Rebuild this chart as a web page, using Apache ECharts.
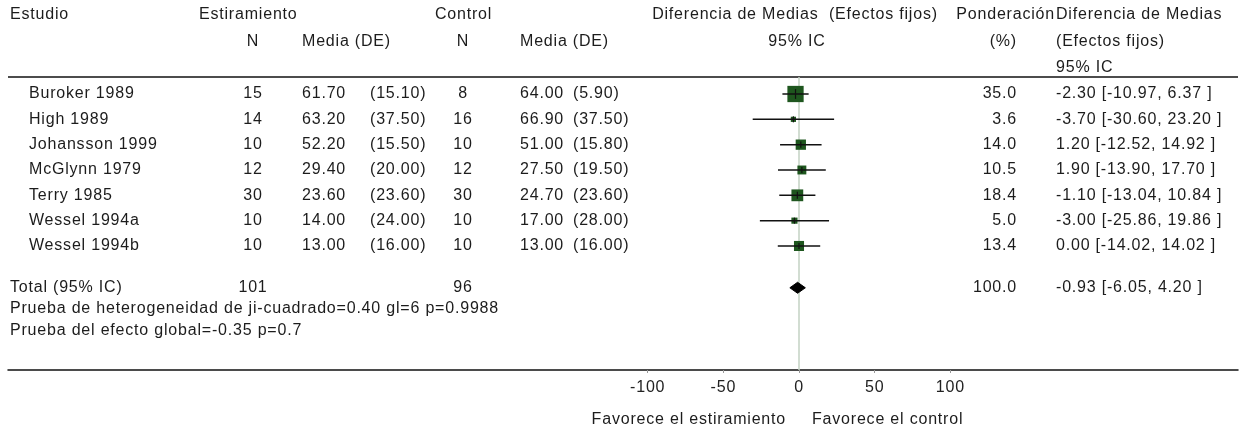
<!DOCTYPE html>
<html><head><meta charset="utf-8">
<script src="https://cdn.jsdelivr.net/npm/echarts@6/dist/echarts.min.js"></script>
<style>html,body{margin:0;padding:0;background:#fff}#c{width:1243px;height:432px}</style>
</head><body><div id="c"></div>
<script>
// ---- data ----
const studies = ['Buroker 1989','High 1989','Johansson 1999','McGlynn 1979','Terry 1985','Wessel 1994a','Wessel 1994b'];
const stretchN = [15,14,10,12,30,10,10];
const stretchMean = [61.70,63.20,52.20,29.40,23.60,14.00,13.00];
const stretchSD = [15.10,37.50,15.50,20.00,23.60,24.00,16.00];
const controlN = [8,16,10,12,30,10,10];
const controlMean = [64.00,66.90,51.00,27.50,24.70,17.00,13.00];
const controlSD = [5.90,37.50,15.80,19.50,23.60,28.00,16.00];
const weights = [35.0,3.6,14.0,10.5,18.4,5.0,13.4];
const meanDiff = [-2.30,-3.70,1.20,1.90,-1.10,-3.00,0.00];
const ciLow = [-10.97,-30.60,-12.52,-13.90,-13.04,-25.86,-14.02];
const ciHigh = [6.37,23.20,14.92,17.70,10.84,19.86,14.02];
const totalN = [101, 96];
const totalWeight = [100.0];
const totalEffect = [-0.93, -6.05, 4.20];
const xTicks = [-100,-50,0,50,100];
const heterogeneityText = 'Prueba de heterogeneidad de ji-cuadrado=0.40 gl=6 p=0.9988';
const overallText = 'Prueba del efecto global=-0.35 p=0.7';

// slight letter tracking like the original bitmap font
(function(){
  const P = CanvasRenderingContext2D.prototype;
  if (!('letterSpacing' in P)) return;
  const f = P.fillText, m = P.measureText;
  P.fillText = function(){ this.letterSpacing = '0.8px'; return f.apply(this, arguments); };
  P.measureText = function(){ this.letterSpacing = '0.8px'; return m.apply(this, arguments); };
})();

// ---- layout ----
const FF = '"Liberation Sans", Arial, sans-serif';
const FS = 16;
const TXT = '#1c1c1c';
const GREEN = '#1e561e';
const COL = {study:29, n1:253, m1:302, sd1:370, n2:463, m2:520, sd2:573, wt:1017, eff:1056};
const GRID = {left:8, right:5, top:77, bottom:62};
const ZERO_PX = 799, PX_PER_UNIT = 1.513;
const XMIN = -(ZERO_PX - GRID.left)/PX_PER_UNIT;
const XMAX = (1243 - GRID.right - ZERO_PX)/PX_PER_UNIT;
const ROW_PX = 25.33;
const YMIN = -(94 - GRID.top)/ROW_PX;
const YMAX = YMIN + (432 - GRID.bottom - GRID.top)/ROW_PX;
const TOTAL_ROW = 7.65;

function txt(text, x, y, align){
  return {type:'text', style:{text:text, x:x, y:y, fill:TXT, fontSize:FS, fontFamily:FF, align:align||'left', verticalAlign:'middle'}};
}
function gtxt(text, x, y, align){
  return {type:'text', x:x, y:y, style:{text:text, fill:TXT, fontSize:FS, fontFamily:FF, align:align||'left', verticalAlign:'middle'}, silent:true};
}
function effStr(e,l,h){ return e.toFixed(2)+' ['+l.toFixed(2)+', '+h.toFixed(2)+' ]'; }

function renderStudy(params, api){
  const i = params.dataIndex;
  const row = api.value(0), est = api.value(1), lo = api.value(2), hi = api.value(3), w = api.value(4);
  const c = api.coord([est,row]);
  const pl = api.coord([lo,row]);
  const ph = api.coord([hi,row]);
  const y = c[1];
  const s = 2.75*Math.sqrt(w);
  const t = Math.max(3, s*0.3);
  return {type:'group', children:[
    {type:'rect', shape:{x:c[0]-s/2, y:y-s/2, width:s, height:s}, style:{fill:GREEN}},
    {type:'line', shape:{x1:pl[0], y1:y, x2:ph[0], y2:y}, style:{stroke:'#111', lineWidth:1.5}},
    {type:'line', shape:{x1:c[0], y1:y-t, x2:c[0], y2:y+t}, style:{stroke:'#111', lineWidth:1.2}},
    txt(studies[i], COL.study, y),
    txt(String(stretchN[i]), COL.n1, y, 'center'),
    txt(stretchMean[i].toFixed(2), COL.m1, y),
    txt('('+stretchSD[i].toFixed(2)+')', COL.sd1, y),
    txt(String(controlN[i]), COL.n2, y, 'center'),
    txt(controlMean[i].toFixed(2), COL.m2, y),
    txt('('+controlSD[i].toFixed(2)+')', COL.sd2, y),
    txt(weights[i].toFixed(1), COL.wt, y, 'right'),
    txt(effStr(meanDiff[i], ciLow[i], ciHigh[i]), COL.eff, y)
  ]};
}
function renderTotal(params, api){
  const row = api.value(0), est = api.value(1), lo = api.value(2), hi = api.value(3);
  const c = api.coord([est,row]), pl = api.coord([lo,row]), ph = api.coord([hi,row]);
  const y = c[1], h = 5.5;
  return {type:'group', children:[
    {type:'polygon', shape:{points:[[pl[0],y],[c[0],y-h],[ph[0],y],[c[0],y+h]]}, style:{fill:'#000', stroke:'#000', lineWidth:1, lineJoin:'round'}},
    txt('Total (95% IC)', 10, y),
    txt(String(totalN[0]), COL.n1, y, 'center'),
    txt(String(totalN[1]), COL.n2, y, 'center'),
    txt(totalWeight[0].toFixed(1), COL.wt, y, 'right'),
    txt(effStr(totalEffect[0], totalEffect[1], totalEffect[2]), COL.eff, y),
    txt(heterogeneityText, 10, y+21),
    txt(overallText, 10, y+43)
  ]};
}

const chart = echarts.init(document.getElementById('c'), null, {renderer:'canvas'});
const hy1 = 15, hy2 = 42, hy3 = 68;
chart.setOption({
  animation:false,
  backgroundColor:'#fff',
  grid:{left:GRID.left, right:GRID.right, top:GRID.top, bottom:GRID.bottom, containLabel:false, outerBoundsMode:'none'},
  xAxis:{type:'value', min:XMIN, max:XMAX, splitLine:{show:false},
    axisLine:{show:true, onZero:false, lineStyle:{color:'#111', width:1.5}},
    axisTick:{show:true, customValues:xTicks, length:3, lineStyle:{color:'#999'}},
    axisLabel:{show:true, customValues:xTicks, color:'#222', fontSize:FS, fontFamily:FF, margin:9}},
  yAxis:{type:'value', inverse:true, min:YMIN, max:YMAX, show:false},
  series:[
    {type:'line', data:[[0,YMIN],[0,YMAX]], showSymbol:false, symbol:'none', z:1, silent:true,
     lineStyle:{color:'#c3d2c3', width:1.5}},
    {type:'custom', z:3, clip:false, renderItem:renderStudy,
     data:studies.map((s,i)=>[i, meanDiff[i], ciLow[i], ciHigh[i], weights[i]])},
    {type:'custom', z:3, clip:false, renderItem:renderTotal,
     data:[[TOTAL_ROW, totalEffect[0], totalEffect[1], totalEffect[2]]]}
  ],
  graphic:[
    {type:'line', shape:{x1:8, y1:GRID.top, x2:1238, y2:GRID.top}, style:{stroke:'#111', lineWidth:1.5}, silent:true},
    gtxt('Estudio', 10, hy1),
    gtxt('Estiramiento', 199, hy1),
    gtxt('N', COL.n1, hy2, 'center'),
    gtxt('Media (DE)', COL.m1, hy2),
    gtxt('Control', 435, hy1),
    gtxt('N', COL.n2, hy2, 'center'),
    gtxt('Media (DE)', COL.m2, hy2),
    gtxt('Diferencia de Medias  (Efectos fijos)', 795, hy1, 'center'),
    gtxt('95% IC', 797, hy2, 'center'),
    gtxt('Ponderación', 1055, hy1, 'right'),
    gtxt('(%)', COL.wt, hy2, 'right'),
    gtxt('Diferencia de Medias', COL.eff, hy1),
    gtxt('(Efectos fijos)', COL.eff, hy2),
    gtxt('95% IC', COL.eff, hy3),
    gtxt('Favorece el estiramiento', 786, 420, 'right'),
    gtxt('Favorece el control', 812, 420)
  ]
});
</script></body></html>
